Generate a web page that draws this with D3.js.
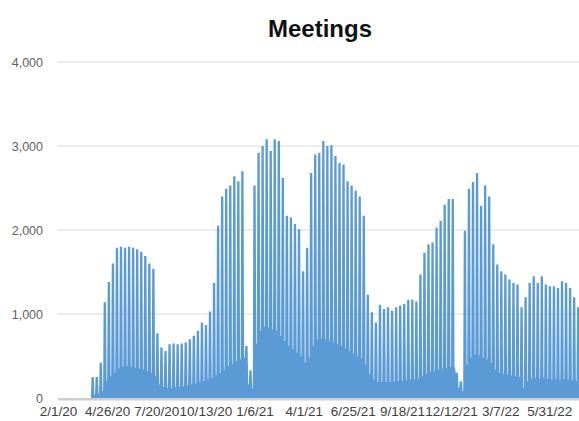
<!DOCTYPE html>
<html>
<head>
<meta charset="utf-8">
<script src="https://cdn.jsdelivr.net/npm/d3@7"></script>
<style>
  html, body { margin: 0; padding: 0; background: #ffffff; }
  svg { display: block; }
</style>
</head>
<body>
<svg id="chart" width="579" height="421"></svg>
<script>
// ---- Data ----
const title = "Meetings";
const firstDay = "2/1/20";          // first date on the axis (a Saturday)
const firstWeekMonday = "2/3/20";   // week index 0 starts on this Monday
const yTicks = [0, 1000, 2000, 3000, 4000];
const xTickLabels = ["2/1/20", "4/26/20", "7/20/20", "10/13/20", "1/6/21", "4/1/21",
                     "6/25/21", "9/18/21", "12/12/21", "3/7/22", "5/31/22"];

// Weekday (Mon-Fri) meeting counts, one value per week
const weekdayPeaks = [
  0, 0, 0, 0, 0, 0, 0, 0, 250, 250,
  420, 1140, 1380, 1600, 1790, 1800, 1790, 1800, 1790, 1770,
  1740, 1690, 1600, 1540, 770, 600, 560, 640, 650, 640,
  650, 660, 700, 740, 800, 900, 870, 1030, 1370, 2050,
  2400, 2490, 2530, 2640, 2580, 2700, 620, 330, 2530, 2920,
  3000, 3080, 2940, 3080, 3060, 2620, 2170, 2150, 2070, 2010,
  1510, 1790, 2680, 2900, 2920, 3060, 3000, 3010, 2880, 2800,
  2780, 2580, 2530, 2470, 2400, 2170, 1230, 1020, 900, 1110,
  1060, 1080, 1040, 1080, 1100, 1120, 1170, 1170, 1150, 1470,
  1730, 1830, 1850, 2030, 2110, 2300, 2370, 2370, 300, 200,
  1990, 2490, 2570, 2680, 2290, 2530, 2400, 1830, 1590, 1510,
  1470, 1410, 1370, 1350, 1080, 1200, 1370, 1450, 1370, 1450,
  1350, 1330, 1330, 1310, 1390, 1370, 1310, 1200, 1080, 1050
];
// Weekend (Sat-Sun) meeting counts, one value per week
const weekendLows = [
  0, 0, 0, 0, 0, 0, 0, 0, 40, 50,
  80, 200, 260, 300, 350, 370, 380, 370, 360, 350,
  340, 320, 300, 260, 160, 130, 120, 120, 130, 130,
  140, 150, 160, 170, 190, 200, 220, 240, 270, 300,
  340, 380, 410, 440, 460, 480, 160, 120, 650, 800,
  850, 840, 820, 800, 740, 680, 620, 580, 540, 500,
  420, 480, 620, 700, 710, 700, 680, 660, 640, 620,
  590, 560, 530, 500, 470, 400, 280, 220, 190, 190,
  190, 190, 190, 200, 200, 210, 220, 220, 230, 260,
  290, 310, 320, 340, 350, 360, 370, 360, 120, 80,
  400, 480, 520, 510, 480, 460, 420, 340, 300, 290,
  280, 270, 260, 250, 120, 200, 230, 240, 230, 240,
  230, 220, 220, 210, 220, 220, 210, 200, 190, 190
];

// ---- Build daily series from the weekly readings ----
const parse = d3.timeParse("%m/%d/%y");
const start = parse(firstDay);
const monday0 = parse(firstWeekMonday);
const daily = [];
// leading weekend before first Monday
for (let d = start; d < monday0; d = d3.timeDay.offset(d, 1)) daily.push({ date: d, value: 0 });
weekdayPeaks.forEach((peak, i) => {
  const mon = d3.timeDay.offset(monday0, i * 7);
  for (let k = 0; k < 7; k++) {
    daily.push({ date: d3.timeDay.offset(mon, k), value: k < 5 ? peak : weekendLows[i] });
  }
});

// ---- Layout ----
const svg = d3.select("#chart");
const W = 579, H = 421;
const plotLeft = 58, y0px = 398, y4000px = 62;
const pxPerDay = 0.578;
const endDate = d3.timeDay.offset(start, 912);

const x = d3.scaleTime().domain([start, endDate]).range([plotLeft, plotLeft + pxPerDay * 912]);
const y = d3.scaleLinear().domain([0, 4000]).range([y0px, y4000px]);

// Gridlines + y labels
const yAxis = d3.axisLeft(y).tickValues(yTicks).tickSize(0).tickPadding(0)
  .tickFormat(d3.format(","));
const gy = svg.append("g").attr("transform", `translate(${plotLeft},0)`).call(yAxis);
gy.select(".domain").remove();
gy.selectAll(".tick line").remove();
gy.selectAll(".tick text")
  .attr("x", -15)
  .attr("dy", "0.35em")
  .style("font-family", "'Liberation Sans', Arial, sans-serif")
  .style("font-size", "12.5px")
  .style("fill", "#5f5f5f")
  .attr("text-anchor", "end");

svg.append("g").selectAll("line")
  .data(yTicks.filter(v => v > 0))
  .join("line")
  .attr("x1", plotLeft).attr("x2", W)
  .attr("y1", d => y(d)).attr("y2", d => y(d))
  .attr("stroke", "#d9d9d9").attr("stroke-width", 1);

// Area
const area = d3.area()
  .x(d => x(d.date))
  .y0(y(0))
  .y1(d => y(d.value));
svg.append("path")
  .datum(daily)
  .attr("d", area)
  .attr("fill", "#5b9bd5");

// Baseline axis line
svg.append("line")
  .attr("x1", plotLeft).attr("x2", W)
  .attr("y1", y(0) + 1.2).attr("y2", y(0) + 1.2)
  .attr("stroke", "#cfcfcf").attr("stroke-width", 2.5);

// X labels
const xAxis = d3.axisBottom(x)
  .tickValues(xTickLabels.map(parse))
  .tickSize(0).tickPadding(0)
  .tickFormat((d, i) => xTickLabels[i]);
const gx = svg.append("g").attr("transform", `translate(0,${y0px})`).call(xAxis);
gx.select(".domain").remove();
gx.selectAll(".tick text")
  .attr("y", 17.5)
  .attr("dy", 0)
  .style("font-family", "'Liberation Sans', Arial, sans-serif")
  .style("font-size", "13.5px")
  .style("fill", "#404040");

// Title
svg.append("text")
  .attr("x", 320).attr("y", 37)
  .attr("text-anchor", "middle")
  .style("font-family", "'Liberation Sans', Arial, sans-serif")
  .style("font-weight", "bold")
  .style("font-size", "24px")
  .style("fill", "#111111")
  .text(title);
</script>
</body>
</html>
